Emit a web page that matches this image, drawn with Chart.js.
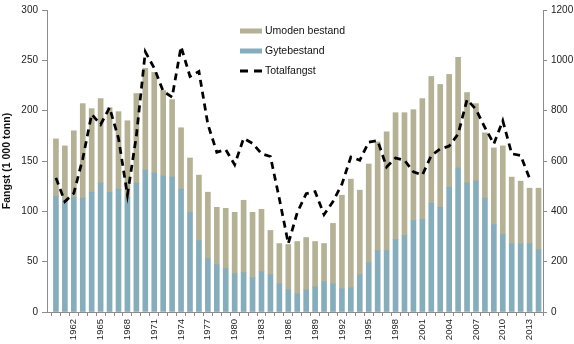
<!DOCTYPE html>
<html>
<head>
<meta charset="utf-8">
<script src="https://cdn.jsdelivr.net/npm/chart.js@4.4.1/dist/chart.umd.min.js"></script>
<style>
  html, body { margin: 0; padding: 0; background: #fff; }
</style>
</head>
<body>
<canvas id="chart" width="574" height="344"></canvas>
<script>
// years on the x axis
var years = [1960, 1961, 1962, 1963, 1964, 1965, 1966, 1967, 1968, 1969,
             1970, 1971, 1972, 1973, 1974, 1975, 1976, 1977, 1978, 1979,
             1980, 1981, 1982, 1983, 1984, 1985, 1986, 1987, 1988, 1989,
             1990, 1991, 1992, 1993, 1994, 1995, 1996, 1997, 1998, 1999,
             2000, 2001, 2002, 2003, 2004, 2005, 2006, 2007, 2008, 2009,
             2010, 2011, 2012, 2013, 2014];

// left axis, stacked bars (1 000 tonn)
var gytebestand = [115, 110, 114, 113, 119, 128, 119, 122, 114, 128,
                   141, 138, 135, 134, 122, 99, 71, 53, 47, 43,
                   38, 39, 34, 40, 37, 28, 22, 18, 22, 25,
                   30, 28, 23, 24, 37, 49, 61, 61, 72, 76,
                   91, 92, 108, 104, 124, 143, 128, 130, 113, 87,
                   77, 68, 68, 68, 62];
var umodenBestand = [57, 55, 66, 94, 83, 84, 84, 77, 76, 89,
                     101, 100, 85, 77, 61, 54, 65, 66, 57, 60,
                     61, 72, 65, 62, 44, 40, 45, 52, 52, 45,
                     38, 60, 93, 108, 84, 98, 108, 118, 126, 122,
                     110, 120, 126, 122, 112, 110, 90, 77, 65, 76,
                     88, 66, 62, 55, 61];

// right axis, dashed line
var totalfangst = [533, 439, 472, 609, 786, 745, 812, 690, 465, 700,
                   1034, 969, 877, 854, 1054, 936, 956, 746, 635, 645,
                   585, 690, 670, 629, 618, 450, 272, 395, 470, 478,
                   387, 439, 508, 616, 603, 675, 681, 576, 612, 603,
                   557, 544, 622, 648, 659, 707, 844, 805, 733, 668,
                   760, 629, 622, 531, null];

var FONT = "'Liberation Sans', Arial, sans-serif";
var AXIS = '#8c8c8c';

function points(values) {
    var out = [];
    for (var i = 0; i < years.length; i++) {
        if (values[i] != null) out.push({ x: years[i], y: values[i] });
    }
    return out;
}

// legend drawn inside the plot, stacked vertically
var legendBox = {
    id: 'legendBox',
    afterDraw: function (chart) {
        var c = chart.ctx;
        var ds = chart.data.datasets;
        var items = [ds[1], ds[0], ds[2]];
        c.save();
        c.font = '10.5px ' + FONT;
        c.textBaseline = 'middle';
        items.forEach(function (d, i) {
            var y = 31 + i * 20;
            if (d.type === 'line') {
                c.strokeStyle = d.borderColor;
                c.lineWidth = 3;
                c.setLineDash([8, 6]);
                c.beginPath();
                c.moveTo(240, y);
                c.lineTo(262, y);
                c.stroke();
                c.setLineDash([]);
            } else {
                c.fillStyle = d.backgroundColor;
                c.fillRect(240, y - 2.5, 22, 5);
            }
            c.fillStyle = '#111';
            c.fillText(d.label, 265, y);
        });
        c.restore();
    }
};

var ctx = document.getElementById('chart').getContext('2d');
var myChart = new Chart(ctx, {
    type: 'bar',
    data: {
        datasets: [{
            label: 'Gytebestand',
            data: points(gytebestand),
            backgroundColor: '#86adbc',
            yAxisID: 'y',
            barThickness: 5,
            order: 1
        }, {
            label: 'Umoden bestand',
            data: points(umodenBestand),
            backgroundColor: '#b5b194',
            yAxisID: 'y',
            barThickness: 5,
            order: 1
        }, {
            type: 'line',
            label: 'Totalfangst',
            data: points(totalfangst),
            yAxisID: 'y1',
            borderColor: '#000',
            borderWidth: 2.75,
            borderDash: [7, 5],
            pointRadius: 0,
            tension: 0,
            order: 0
        }]
    },
    options: {
        responsive: false,
        animation: false,
        layout: { padding: { top: 7, left: 0, right: 0, bottom: 0 } },
        plugins: { legend: { display: false }, tooltip: { enabled: false } },
        scales: {
            x: {
                type: 'linear',
                min: 1959,
                max: 2014.5,
                stacked: true,
                offset: false,
                border: { display: true, color: AXIS },
                grid: { drawOnChartArea: false, drawTicks: true, tickLength: 4, color: AXIS },
                ticks: {
                    stepSize: 1,
                    autoSkip: false,
                    includeBounds: false,
                    minRotation: 90,
                    maxRotation: 90,
                    padding: 3,
                    color: '#222',
                    font: { family: FONT, size: 9.5 },
                    callback: function (v) {
                        return v >= 1962 && (v - 1962) % 3 === 0 ? String(v) : '';
                    }
                },
                afterFit: function (s) { s.height = 32; }
            },
            y: {
                stacked: true,
                min: 0,
                max: 300,
                border: { display: true, color: AXIS },
                grid: { drawOnChartArea: false, drawTicks: true, tickLength: 5, color: AXIS },
                ticks: { stepSize: 50, padding: 4, color: '#222', font: { family: FONT, size: 10 } },
                title: {
                    display: true,
                    text: 'Fangst (1 000 tonn)',
                    color: '#111',
                    padding: { top: 1, bottom: 0 },
                    font: { family: FONT, size: 10.5, weight: 'bold' }
                },
                afterFit: function (s) { s.width = 47; }
            },
            y1: {
                position: 'right',
                stacked: false,
                min: 0,
                max: 1200,
                border: { display: true, color: AXIS },
                grid: { drawOnChartArea: false, drawTicks: true, tickLength: 4, color: AXIS },
                ticks: {
                    stepSize: 200,
                    padding: 4,
                    color: '#222',
                    font: { family: FONT, size: 10 },
                    callback: function (v) { return String(v); }
                },
                afterFit: function (s) { s.width = 31; }
            }
        }
    },
    plugins: [legendBox]
});
</script>
</body>
</html>
